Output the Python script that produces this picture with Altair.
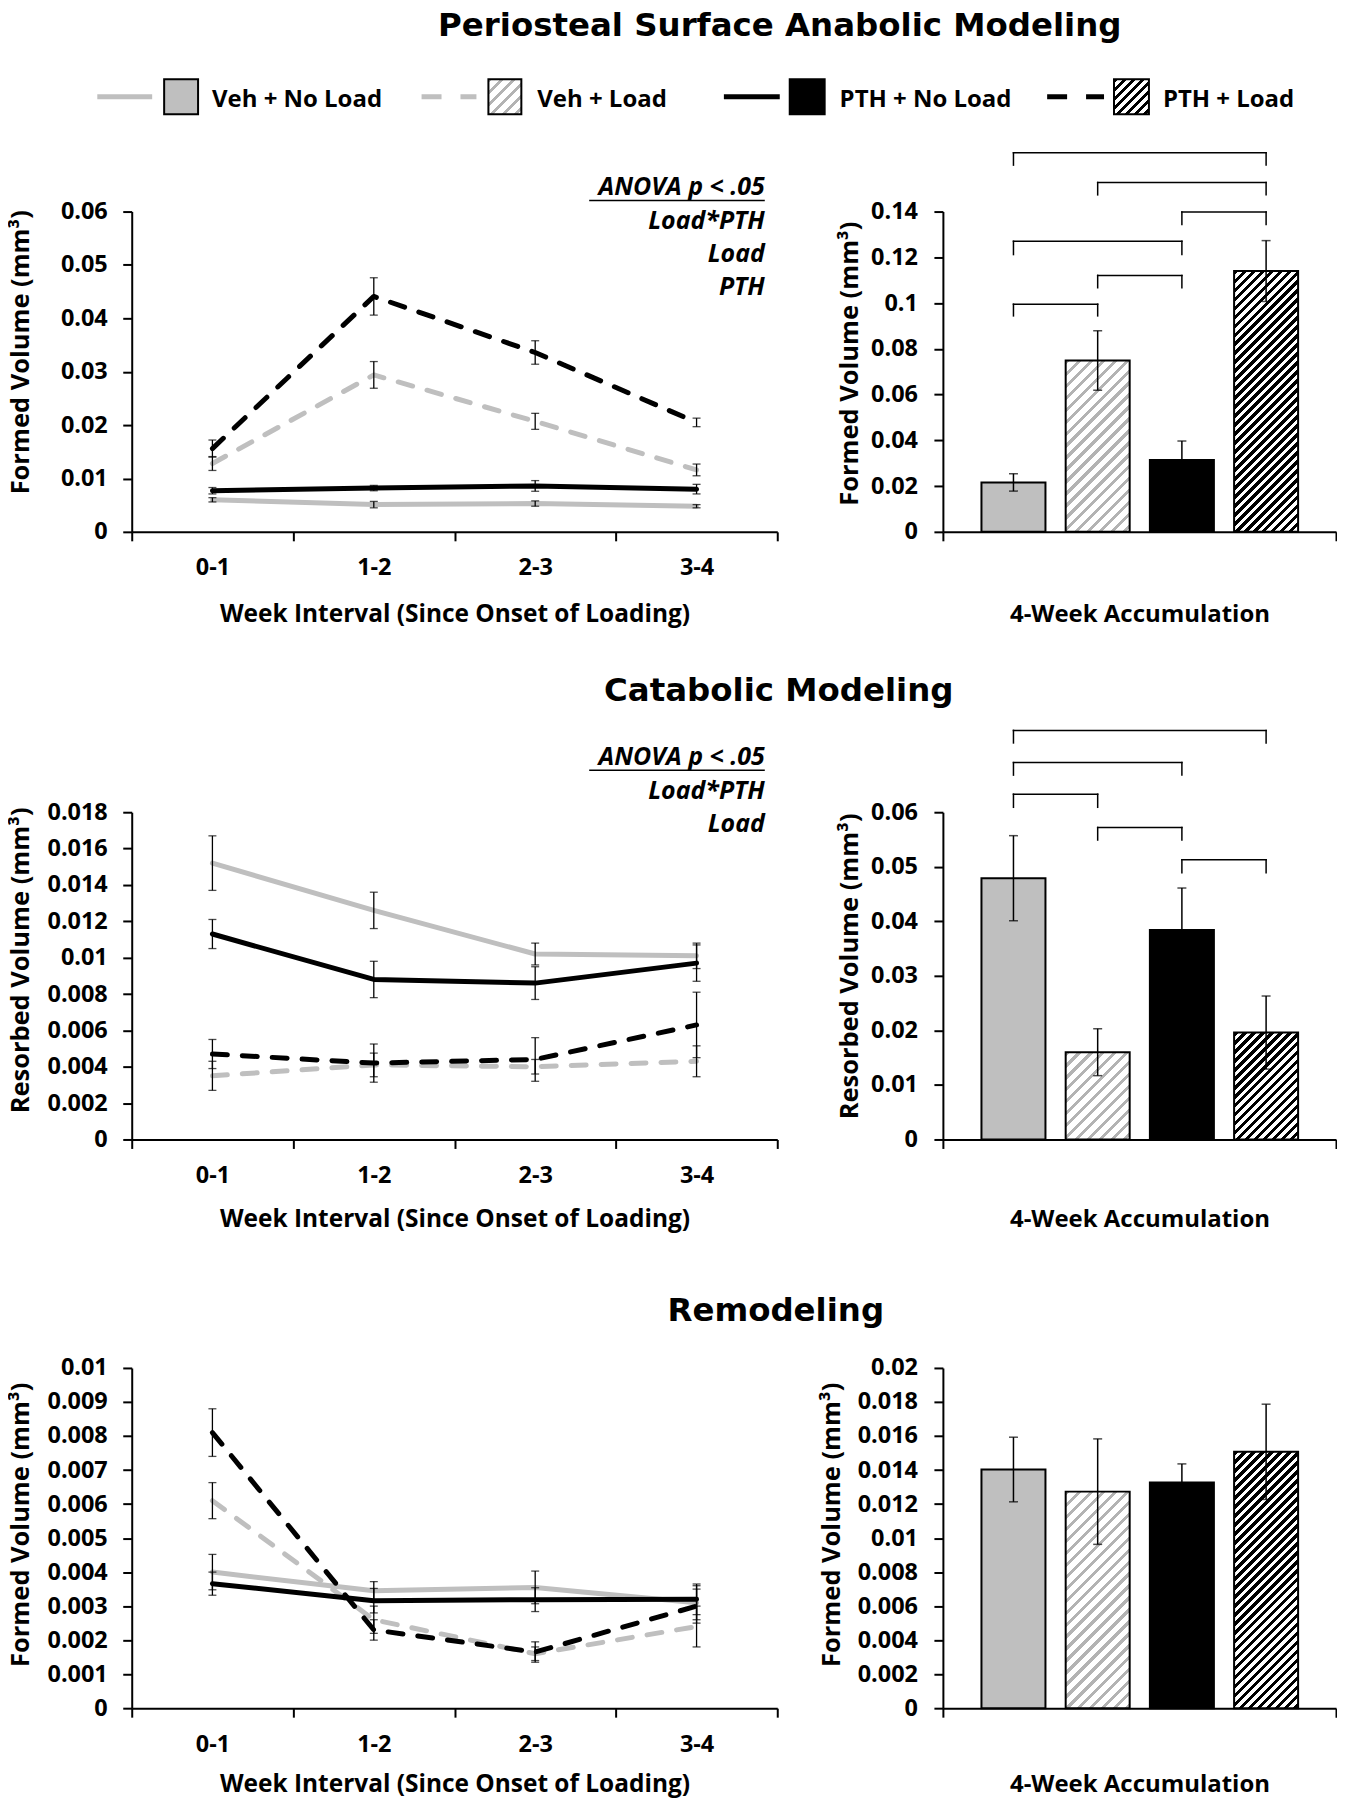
import altair as alt
import pandas as pd

# ---------------- data ----------------
groups = ["Veh + No Load", "Veh + Load", "PTH + No Load", "PTH + Load"]
intervals = ["0-1", "1-2", "2-3", "3-4"]

# Anabolic modeling: weekly formed volume (mean, SEM)
ana_mean = {
    "Veh + No Load": [0.0060, 0.0051, 0.0053, 0.0048],
    "Veh + Load": [0.0128, 0.0294, 0.0207, 0.0116],
    "PTH + No Load": [0.0077, 0.0082, 0.0086, 0.0080],
    "PTH + Load": [0.0156, 0.0441, 0.0336, 0.0205],
}
ana_err = {
    "Veh + No Load": [0.0004, 0.0006, 0.0005, 0.0003],
    "Veh + Load": [0.0013, 0.0025, 0.0015, 0.0011],
    "PTH + No Load": [0.0006, 0.0005, 0.0010, 0.0009],
    "PTH + Load": [0.0016, 0.0035, 0.0022, 0.0008],
}
# Catabolic modeling: weekly resorbed volume
cat_mean = {
    "Veh + No Load": [0.0152, 0.0126, 0.0102, 0.0101],
    "Veh + Load": [0.0035, 0.0041, 0.0040, 0.0043],
    "PTH + No Load": [0.0113, 0.0088, 0.0086, 0.0097],
    "PTH + Load": [0.0047, 0.0042, 0.0044, 0.0063],
}
cat_err = {
    "Veh + No Load": [0.0015, 0.0010, 0.0006, 0.0007],
    "Veh + Load": [0.0008, 0.00065, 0.0004, 0.00085],
    "PTH + No Load": [0.0008, 0.0010, 0.0009, 0.0010],
    "PTH + Load": [0.0008, 0.00105, 0.0012, 0.0018],
}
# Remodeling: weekly formed volume
rem_mean = {
    "Veh + No Load": [0.0040, 0.00345, 0.00355, 0.0031],
    "Veh + Load": [0.0061, 0.0026, 0.0016, 0.0024],
    "PTH + No Load": [0.00366, 0.00316, 0.00319, 0.0032],
    "PTH + Load": [0.0081, 0.0023, 0.00165, 0.0030],
}
rem_err = {
    "Veh + No Load": [0.00052, 0.00027, 0.00048, 0.0005],
    "Veh + Load": [0.00053, 0.0004, 0.0002, 0.0006],
    "PTH + No Load": [0.00034, 0.00036, 0.00035, 0.00045],
    "PTH + Load": [0.0007, 0.0003, 0.0003, 0.0005],
}

# 4-week accumulation (mean, SEM), in group order
ana_acc = [0.0216, 0.0749, 0.0314, 0.1140]
ana_acc_err = [0.0038, 0.0130, 0.0083, 0.0133]
cat_acc = [0.0479, 0.0160, 0.0384, 0.0196]
cat_acc_err = [0.0078, 0.0043, 0.0077, 0.0067]
rem_acc = [0.01403, 0.01273, 0.01326, 0.01507]
rem_acc_err = [0.0019, 0.0031, 0.0011, 0.0028]

# significance brackets: (group a, group b, bracket height, leg end)
ana_brackets = [(0, 3, 0.1657, 0.1603), (1, 3, 0.1527, 0.1473), (2, 3, 0.1398, 0.1343),
                (0, 2, 0.1270, 0.1212), (1, 2, 0.1121, 0.1067), (0, 1, 0.0995, 0.0944)]
cat_brackets = [(0, 3, 0.0750, 0.0727), (0, 2, 0.0691, 0.0668), (0, 1, 0.0633, 0.0609),
                (1, 2, 0.0572, 0.0549), (2, 3, 0.0513, 0.0489)]

# axis tick values
ana_ticks_w = [0, 0.01, 0.02, 0.03, 0.04, 0.05, 0.06]
ana_ticks_a = [0, 0.02, 0.04, 0.06, 0.08, 0.1, 0.12, 0.14]
cat_ticks_w = [0, 0.002, 0.004, 0.006, 0.008, 0.01, 0.012, 0.014, 0.016, 0.018]
cat_ticks_a = [0, 0.01, 0.02, 0.03, 0.04, 0.05, 0.06]
rem_ticks_w = [0, 0.001, 0.002, 0.003, 0.004, 0.005, 0.006, 0.007, 0.008, 0.009, 0.01]
rem_ticks_a = [0, 0.002, 0.004, 0.006, 0.008, 0.01, 0.012, 0.014, 0.016, 0.018, 0.02]

# ---------------- layout & style ----------------
FONT = "Open Sans"
TITLE_FONT = "DejaVu Sans"
GRAY = "#bfbfbf"
HATCH_GRAY = "#b3b3b3"
LW, RW, HS = 647, 394, 166
ROW_H = [321, 328, 341]
GAPS = [281, 229]
OX = 132.5                      # page x of left plot origin
ROW_Y = [209.5]
ROW_Y.append(ROW_Y[0] + ROW_H[0] + GAPS[0])
ROW_Y.append(ROW_Y[1] + ROW_H[1] + GAPS[1])
XMIN, XMAX, HALF = 0.162, 4.83, 0.38

STYLE = {
    "Veh + No Load": (GRAY, None),
    "Veh + Load": (GRAY, [15, 15]),
    "PTH + No Load": ("black", None),
    "PTH + Load": ("black", [15, 15]),
}
one = pd.DataFrame({"k": [0]})


def hatch(w, h, stripe, pitch, frac):
    L = w + h
    s = L / (w * w + h * h)
    stops = []
    k = 0
    while k * pitch < L:
        a = round(k * pitch / L, 5)
        b = round(min((k * pitch + frac * pitch) / L, 1.0), 5)
        stops += [{"offset": a, "color": "white"}, {"offset": a, "color": stripe},
                  {"offset": b, "color": stripe}, {"offset": b, "color": "white"}]
        k += 1
    return {"gradient": "linear", "x1": 0, "y1": 0, "x2": w * s, "y2": h * s, "stops": stops}


def fill_for(g, w, h):
    if g == "Veh + No Load":
        return GRAY
    if g == "Veh + Load":
        return hatch(w, h, HATCH_GRAY, 12, 0.35)
    if g == "PTH + No Load":
        return "black"
    return hatch(w, h, "black", 9, 0.5)


def txt(text, x, y, size=24, align="left", italic=False, line_height=None, font=FONT):
    kw = dict(text=text, font=font, fontSize=size, fontWeight="bold", color="black",
              align=align, baseline="alphabetic")
    if italic:
        kw["fontStyle"] = "italic"
    if line_height:
        kw["lineBreak"] = "\n"
        kw["lineHeight"] = line_height
    return alt.Chart(one).mark_text(**kw).encode(x=alt.value(x), y=alt.value(y))


def hrule(x1, x2, y, width=1.5, dash=None, color="black"):
    kw = dict(color=color, strokeWidth=width)
    if dash:
        kw["strokeDash"] = dash
    return alt.Chart(one).mark_rule(**kw).encode(x=alt.value(x1), x2=alt.value(x2), y=alt.value(y))


def spacer(w, h):
    return alt.Chart(one).mark_text(text=" ").encode(
        x=alt.value(0), y=alt.value(0)).properties(width=w, height=h)


def line_panel(mean, err, ticks, ymax, h, ytitle, ytitle_y, xtitle_y, extras):
    rows = []
    for g in groups:
        for iv, m, e in zip(intervals, mean[g], err[g]):
            rows.append({"group": g, "interval": iv, "mean": m, "lo": m - e, "hi": m + e})
    df = pd.DataFrame(rows)
    xs = alt.Scale(type="band", domain=intervals, paddingInner=0, paddingOuter=0)
    ys = alt.Scale(domain=[0, ymax], nice=False, zero=True)
    xax = alt.Axis(title="Week Interval (Since Onset of Loading)", tickBand="extent", labelAngle=0,
                   labelPadding=34, labelBaseline="alphabetic", titleY=xtitle_y,
                   titleBaseline="alphabetic", titleFontSize=24.5)
    yax = alt.Axis(values=ticks, format="~g", title=ytitle, titleX=-98, titleY=ytitle_y,
                   titleAngle=270, titleAlign="center", titleBaseline="bottom", labelPadding=15.5)

    def X():
        return alt.X("interval:N", scale=xs, axis=xax, bandPosition=0.5)

    layers = []
    for g in groups:
        color, dash = STYLE[g]
        mk = dict(color=color, strokeWidth=5, strokeCap="round", strokeJoin="round")
        if dash:
            mk["strokeDash"] = dash
        layers.append(alt.Chart(df[df.group == g]).mark_line(**mk).encode(
            x=X(), y=alt.Y("mean:Q", scale=ys, axis=yax)))
    layers.append(alt.Chart(df).mark_rule(color="black", strokeWidth=1.3).encode(
        x=X(), y=alt.Y("lo:Q", scale=ys, axis=yax), y2="hi"))
    for f in ["lo", "hi"]:
        layers.append(alt.Chart(df).mark_tick(color="black", orient="horizontal", size=8,
                                              thickness=1.3).encode(
            x=X(), y=alt.Y(f + ":Q", scale=ys, axis=yax)))
    return alt.layer(*layers, *extras).properties(width=LW, height=h)


def bar_panel(acc, acc_err, ticks, ymax, h, ytitle, ytitle_x, ytitle_y, xtitle_y, brackets):
    pos = [1, 2, 3, 4]
    df = pd.DataFrame({
        "group": groups, "pos": pos, "mean": acc,
        "lo": [m - e for m, e in zip(acc, acc_err)],
        "hi": [m + e for m, e in zip(acc, acc_err)],
        "left": [p - HALF for p in pos], "right": [p + HALF for p in pos], "base": 0.0,
    })
    xs = alt.Scale(domain=[XMIN, XMAX], nice=False, zero=False)
    ys = alt.Scale(domain=[0, ymax], nice=False, zero=True)
    xax = alt.Axis(values=[XMIN, XMAX], labels=False, title="4-Week Accumulation",
                   titleY=xtitle_y, titleBaseline="alphabetic", titleFontSize=24)
    yax = alt.Axis(values=ticks, format="~g", title=ytitle, titleX=ytitle_x, titleY=ytitle_y,
                   titleAngle=270, titleAlign="center", titleBaseline="bottom", labelPadding=16.5)
    step_px = RW / (XMAX - XMIN)
    bar_w = 2 * HALF * step_px
    layers = []
    for i, g in enumerate(groups):
        fill = fill_for(g, bar_w, acc[i] / ymax * h)
        layers.append(alt.Chart(df.iloc[[i]]).mark_bar(fill=fill, stroke="black", strokeWidth=2).encode(
            x=alt.X("left:Q", scale=xs, axis=xax), x2="right",
            y=alt.Y("mean:Q", scale=ys, axis=yax), y2="base"))
    layers.append(alt.Chart(df).mark_rule(color="black", strokeWidth=1.5).encode(
        x=alt.X("pos:Q", scale=xs, axis=xax), y=alt.Y("lo:Q", scale=ys, axis=yax), y2="hi"))
    for f in ["lo", "hi"]:
        layers.append(alt.Chart(df).mark_tick(color="black", orient="horizontal", size=9,
                                              thickness=1.5).encode(
            x=alt.X("pos:Q", scale=xs, axis=xax), y=alt.Y(f + ":Q", scale=ys, axis=yax)))
    if brackets:
        bdf = pd.DataFrame({"xa": [pos[a] for a, b, t, l in brackets],
                            "xb": [pos[b] for a, b, t, l in brackets],
                            "top": [t for a, b, t, l in brackets]})
        legs = []
        for a, b, t, l in brackets:
            legs.append({"x": pos[a], "top": t, "leg": l})
            legs.append({"x": pos[b], "top": t, "leg": l})
        ldf = pd.DataFrame(legs)
        layers.append(alt.Chart(bdf).mark_rule(color="black", strokeWidth=1.5, strokeCap="square").encode(
            x=alt.X("xa:Q", scale=xs, axis=xax), x2="xb", y=alt.Y("top:Q", scale=ys, axis=yax)))
        layers.append(alt.Chart(ldf).mark_rule(color="black", strokeWidth=1.5, strokeCap="square").encode(
            x=alt.X("x:Q", scale=xs, axis=xax), y=alt.Y("top:Q", scale=ys, axis=yax), y2="leg"))
    return alt.layer(*layers).properties(width=RW, height=h)


# ---------------- annotations (legend, titles, ANOVA) ----------------
def rx(px):
    return px - OX


def ry(py, row):
    return py - ROW_Y[row]


legend_line_x = [(98, 153), (423, 478), (726, 782), (1050, 1107)]
legend_box_x = [(165, 199), (490, 523), (792, 827), (1117, 1152)]
legend_text_x = [213, 539, 842, 1166]
LEG_LINE_Y, LEG_BOX_Y, LEG_TEXT_Y = 94.5, (77, 112), 105

extras1 = [txt("Periosteal Surface Anabolic Modeling", rx(782), -175.5, size=32.5, align="center",
               font=TITLE_FONT)]
for g, (l1, l2), (b1, b2), tx in zip(groups, legend_line_x, legend_box_x, legend_text_x):
    color, dash = STYLE[g]
    extras1.append(hrule(rx(l1), rx(l2), ry(LEG_LINE_Y, 0), width=5, color=color,
                         dash=[20, 19] if dash else None))
    fill = fill_for(g, b2 - b1, LEG_BOX_Y[1] - LEG_BOX_Y[0])
    extras1.append(alt.Chart(one).mark_rect(fill=fill, stroke="black", strokeWidth=2).encode(
        x=alt.value(rx(b1)), x2=alt.value(rx(b2)),
        y=alt.value(ry(LEG_BOX_Y[0], 0)), y2=alt.value(ry(LEG_BOX_Y[1], 0))))
    extras1.append(txt(g, rx(tx), ry(LEG_TEXT_Y, 0), size=24))
extras1 += [
    txt("ANOVA p < .05", rx(767), ry(193.3, 0), size=25, align="right", italic=True),
    hrule(rx(591), rx(767), ry(198.5, 0), width=1.5),
    txt("Load*PTH\nLoad\nPTH", rx(767), ry(227, 0), size=25, align="right", italic=True, line_height=33),
]
extras2 = [
    txt("Catabolic Modeling", rx(781), ry(700.4, 1), size=32.5, align="center", font=TITLE_FONT),
    txt("ANOVA p < .05", rx(767), ry(764.5, 1), size=25, align="right", italic=True),
    hrule(rx(591), rx(767), ry(769.5, 1), width=1.5),
    txt("Load*PTH\nLoad", rx(767), ry(798.5, 1), size=25, align="right", italic=True, line_height=33),
]
extras3 = [txt("Remodeling", rx(778), ry(1321, 2), size=32.5, align="center", font=TITLE_FONT)]

# ---------------- panels ----------------
tl = line_panel(ana_mean, ana_err, ana_ticks_w, 0.06, ROW_H[0], "Formed Volume (mm³)", 140.5, 89.5, extras1)
tr = bar_panel(ana_acc, ana_acc_err, ana_ticks_a, 0.14, ROW_H[0], "Formed Volume (mm³)", -80.5, 152, 89.5, ana_brackets)
ml = line_panel(cat_mean, cat_err, cat_ticks_w, 0.018, ROW_H[1], "Resorbed Volume (mm³)", 148, 87, extras2)
mr = bar_panel(cat_acc, cat_acc_err, cat_ticks_a, 0.06, ROW_H[1], "Resorbed Volume (mm³)", -80.5, 154, 87, cat_brackets)
bl = line_panel(rem_mean, rem_err, rem_ticks_w, 0.01, ROW_H[2], "Formed Volume (mm³)", 156.7, 83.5, extras3)
br = bar_panel(rem_acc, rem_acc_err, rem_ticks_a, 0.02, ROW_H[2], "Formed Volume (mm³)", -98.5, 156.7, 83.5, None)

chart = alt.concat(
    tl, tr,
    spacer(LW, GAPS[0]), spacer(RW, GAPS[0]),
    ml, mr,
    spacer(LW, GAPS[1]), spacer(RW, GAPS[1]),
    bl, br,
    columns=2, spacing={"row": 0, "column": HS}, bounds="flush", align="each",
).properties(padding=0)

chart = chart.configure_axis(
    grid=False, domainColor="black", domainWidth=2, tickColor="black", tickWidth=2, tickSize=9,
    labelFont=FONT, labelFontSize=23.5, labelFontWeight="bold", labelColor="black", labelOverlap=False,
    titleFont=FONT, titleFontSize=25.5, titleFontWeight="bold", titleColor="black",
).configure_view(strokeWidth=0)

chart.save("out.html", embed_options={"renderer": "svg", "actions": False})
